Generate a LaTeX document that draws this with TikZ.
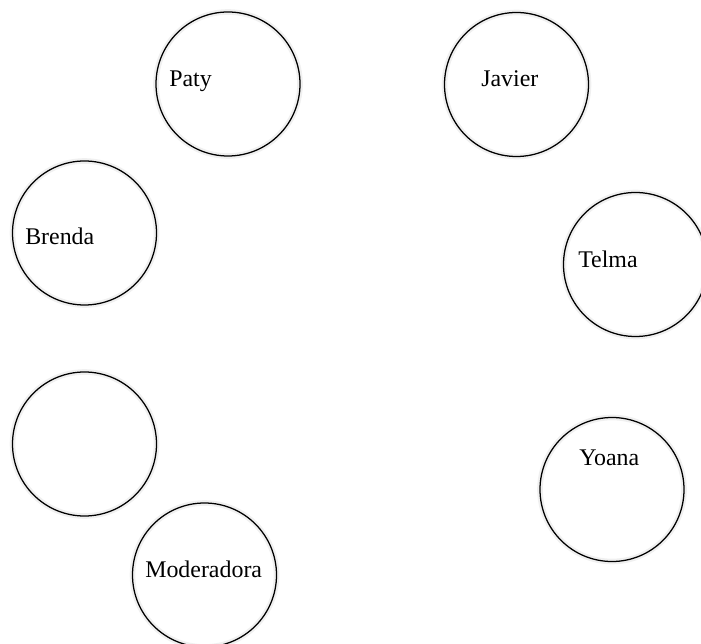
\documentclass[tikz,border=0pt]{standalone}
\usepackage{fontspec}
\setmainfont{Liberation Serif}
\usepackage{tikz}
\usetikzlibrary{positioning}

\begin{document}
\begin{tikzpicture}[
        person/.style = {circle, draw=black, line width=0.9pt, minimum size=3.6cm, inner sep=0pt,
            preaction={draw=black!6, line width=4pt}},
        who/.style = {anchor=base west, inner sep=0pt, font=\fontsize{17}{20}\selectfont}
    ]

    \useasboundingbox (0,0) rectangle (17.525,16.075);

    % circles
    \node [person] (paty) at (5.7,13.975) {};
    \node [person] (javier) at (12.9125,13.9625) {};
    \node [person] (brenda) at (2.1125,10.25) {};
    \node [person] (telma) at (15.8875,9.4625) {};
    \node [person] (blank) at (2.1125,4.975) {};
    \node [person] (yoana) at (15.3,3.8375) {};
    \node [person] (moderadora) at (5.1125,1.7) {};

    % names
    \node [who] (patyname) at (4.225,13.9) {Paty};
    \node [who] (javiername) at (12.025,13.9) {Javier};
    \node [who] (brendaname) at (0.625,9.95) {Brenda};
    \node [who] (telmaname) at (14.45,9.375) {Telma};
    \node [who] (yoananame) at (14.475,4.425) {Yoana};
    \node [who] (moderadoraname) at (3.625,1.65) {Moderadora};

\end{tikzpicture}
\end{document}
